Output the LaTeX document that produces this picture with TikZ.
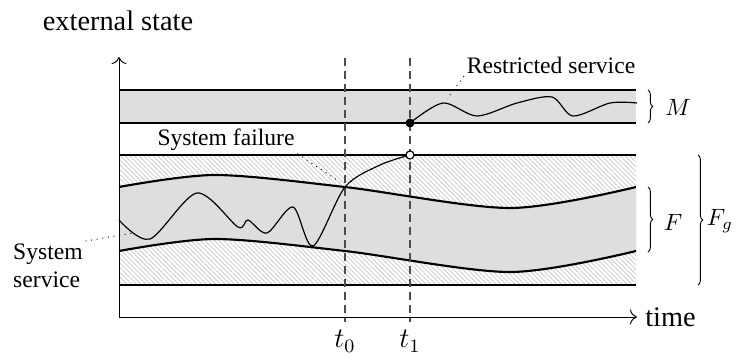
\documentclass[tikz,border=0pt]{standalone}
\usepackage[no-math]{fontspec}
\setmainfont{Liberation Serif}
\usetikzlibrary{arrows.meta,positioning,patterns.meta,decorations.pathreplacing}

\begin{document}
\begin{tikzpicture}[
    x=0.4237pt,y=-0.4237pt,
    band/.style={draw=black,line width=0.9pt},
    grayfill/.style={fill=black!13},
    hatch/.style={pattern={Lines[angle=-45,distance=1.4pt,line width=0.3pt]},pattern color=black!22},
    run/.style={draw=black,line width=0.5pt},
    cut/.style={draw=black!70,dash pattern=on 3.5pt off 2pt,line width=0.6pt},
    leader/.style={draw=black,dotted,line width=0.4pt},
    curly/.style={draw=black,line width=0.4pt,decorate,decoration={brace,amplitude=2pt}},
    axisline/.style={-{To[length=3pt]},draw=black,line width=0.4pt},
    lbl/.style={inner sep=1pt,font=\normalsize},
    dot/.style={circle,fill=black,inner sep=0pt,minimum size=3.8pt},
    ring/.style={circle,draw=black,fill=white,inner sep=0pt,minimum size=3.4pt,line width=0.5pt}
  ]
    \useasboundingbox (0,0) rectangle (739,358);

    % regions
    \fill[hatch] (119,155) rectangle (636,285);
    \fill[grayfill] plot[smooth] coordinates {(119,187) (215,175) (345,187) (510,208) (636,187)}
      -- plot[smooth] coordinates {(636,251) (510,272) (345,251) (215,239) (119,251)} -- cycle;
    \fill[grayfill] (119,90) rectangle (636,123);

    % borders
    \draw[band] (119,90) -- (636,90);
    \draw[band] (119,123) -- (636,123);
    \draw[band] (119,155) -- (636,155);
    \draw[band] (119,285) -- (636,285);
    \draw[band] plot[smooth] coordinates {(119,187) (215,175) (345,187) (510,208) (636,187)};
    \draw[band] plot[smooth] coordinates {(119,251) (215,239) (345,251) (510,272) (636,251)};

    % axes
    \coordinate (o) at (119,317);
    \coordinate (xend) at (637,317);
    \coordinate (yend) at (119,57);
    \draw[axisline] (o) -- (xend);
    \draw[axisline] (o) -- (yend);
    \node[anchor=west,font=\large] (time) at (xend) {time};
    \node[font=\large] (ext) at (118,21) {external state};

    % instants
    \draw[cut] (345,58) coordinate (t0top) -- (345,322) node[below,font=\large] (t0) {$t_0$};
    \draw[cut] (410,58) coordinate (t1top) -- (410,322) node[below,font=\large] (t1) {$t_1$};

    % service
    \draw[run] plot[smooth] coordinates {(119,220) (150,239) (197,193) (238,227) (248,220) (267,233)
      (293,207) (313,246) (345,187) (380,165) (410,155)};
    \draw[run] plot[smooth] coordinates {(410,123) (443,103) (477,116) (517,103) (552,97) (573,116)
      (610,103) (637,103)};
    \node[ring] (fail) at (410,155) {};
    \node[dot] (restart) at (410,123) {};

    % braces
    \draw[curly] (648,90) -- (648,123);
    \draw[curly] (648,187) -- (648,252);
    \draw[curly] (698,155) -- (698,285);
    \node (M) at (678,107) {$M$};
    \node (F) at (673,222) {$F$};
    \node (Fg) at (720,221) {$F_g$};

    % labels
    \node[lbl] (rest) at (551,65) {Restricted service};
    \node[lbl] (sysfail) at (226,140) {System failure};
    \node[lbl,align=left] (serv) at (48,266) {System\\service};
    \coordinate (rs) at (447,99);
    \coordinate (sf) at (340,182);
    \coordinate (ss) at (133,233);
    \draw[leader] (rest.south west) -- (rs);
    \draw[leader] (sysfail.south east) -- (sf);
    \draw[leader] (serv.north east) -- (ss);
  \end{tikzpicture}
\end{document}
